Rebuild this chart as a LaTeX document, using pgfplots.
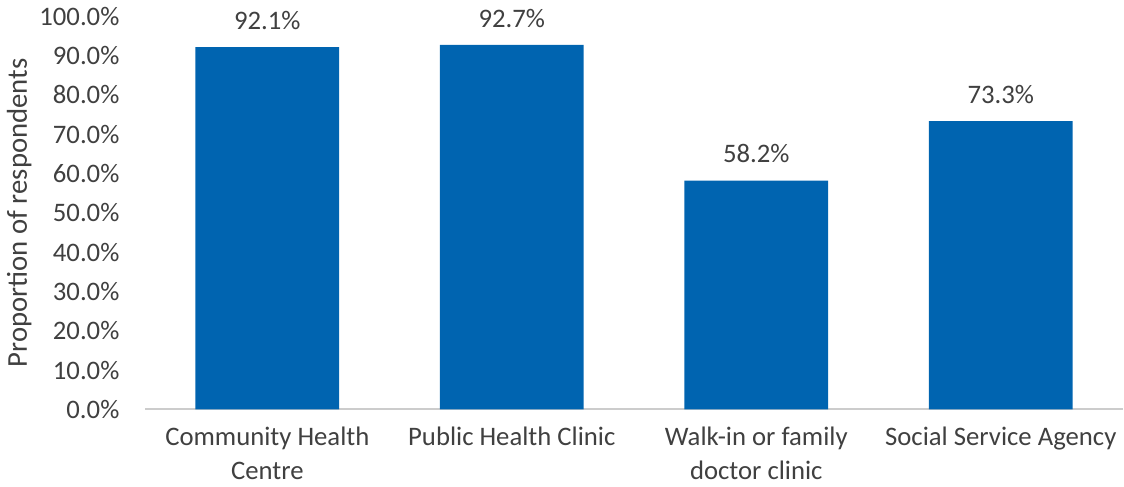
\documentclass[border=0pt]{standalone}
\usepackage{fontspec}
\setmainfont{Carlito}
\usepackage{pgfplots}
\pgfplotsset{compat=1.18}
\definecolor{barblue}{RGB}{0,100,176}
\definecolor{txt}{RGB}{64,64,64}
\begin{document}
\begin{tikzpicture}
\begin{axis}[
  scale only axis,
  width=476pt, height=191.5pt,
  ymin=0, ymax=100,
  xmin=-0.5, xmax=3.5,
  ytick={0,10,...,100},
  xtick=data,
  xticklabels={Community Health\\Centre, Public Health Clinic, Walk-in or family\\doctor clinic, Social Service Agency},
  /pgf/number format/assume math mode=true,
  yticklabel={\pgfmathprintnumber[fixed,fixed zerofill,precision=1]{\tick}\%},
  axis y line*=left,
  y axis line style={draw=none},
  axis x line*=bottom,
  x axis line style={draw=black!20, line width=1pt, -},
  major tick length=0pt,
  tick style={draw=none},
  ybar,
  bar width=70pt,
  font=\fontsize{13}{15}\selectfont,
  every tick label/.append style={text=txt},
  yticklabel style={xshift=-9pt, font=\fontsize{13}{15}\selectfont},
  xticklabel style={align=center, yshift=-5pt, font=\fontsize{13}{16.5}\selectfont},
  ylabel={Proportion of respondents},
  ylabel style={text=txt, font=\fontsize{14}{16}\selectfont, yshift=-3pt},
  nodes near coords={\pgfmathprintnumber[fixed,fixed zerofill,precision=1]{\pgfplotspointmeta}\%},
  nodes near coords style={text=txt, anchor=south, yshift=5pt, font=\fontsize{13}{15}\selectfont},
  clip=false,
]
\addplot[fill=barblue, draw=none] coordinates {(0,92.1) (1,92.7) (2,58.2) (3,73.3)};
\end{axis}
\end{tikzpicture}
\end{document}
